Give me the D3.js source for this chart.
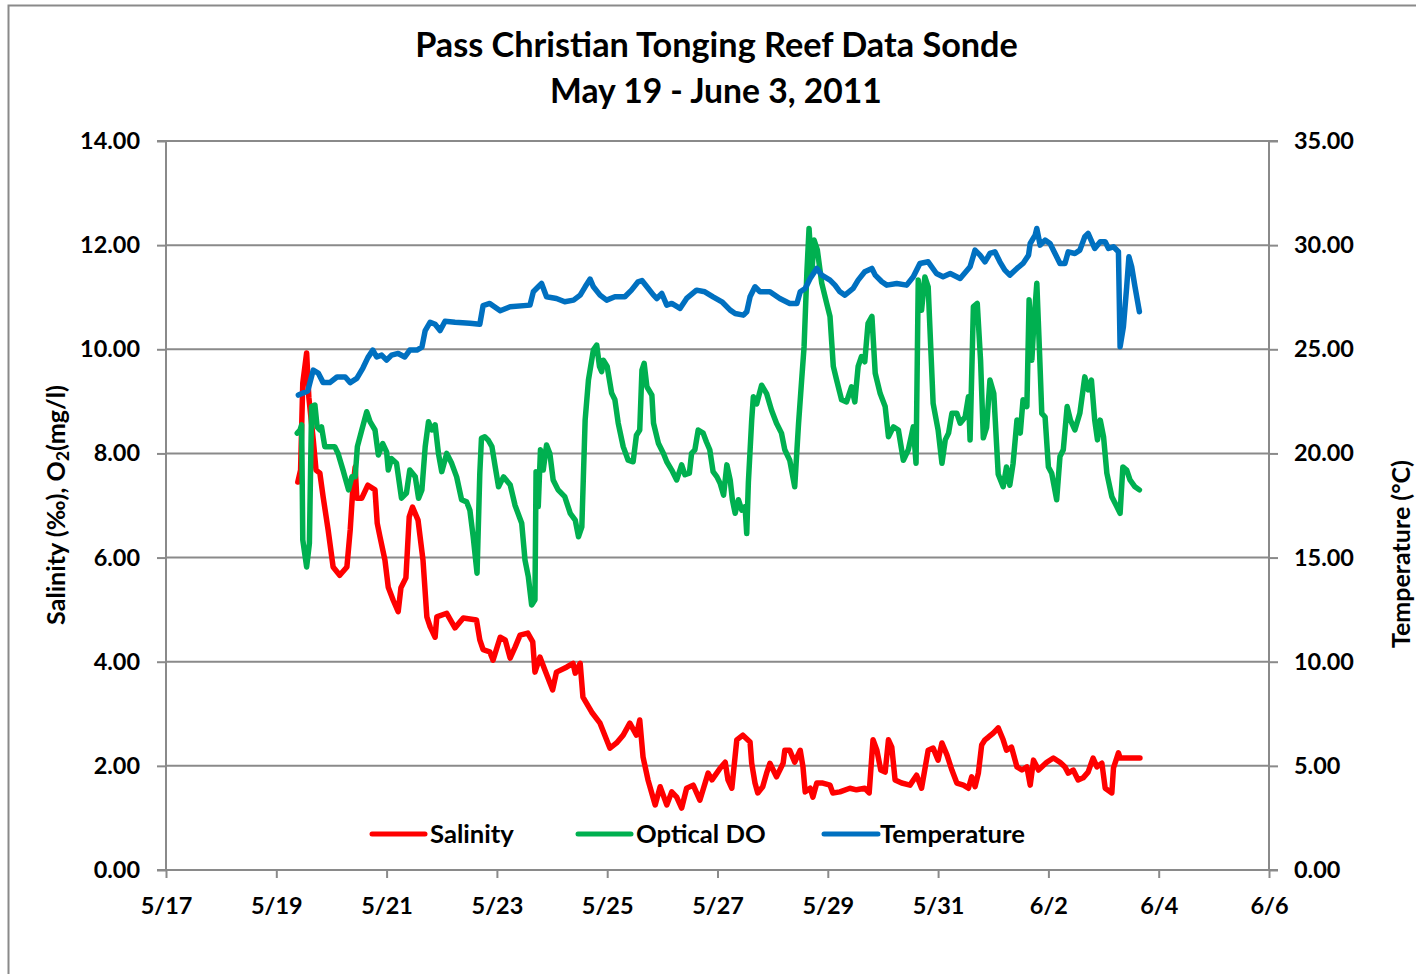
<!DOCTYPE html>
<html><head><meta charset="utf-8">
<script src="https://cdn.jsdelivr.net/npm/d3@7"></script>
<style>body{margin:0;background:#fff;} svg{display:block;} text{font-family:Lato,"Open Sans",sans-serif;font-weight:bold;fill:#000;}</style>
</head><body>
<svg id="chart" width="1416" height="974"></svg>
<script>
// Day of month, May 2011 (32 = June 1), and value
const salinity = [[19.39,7.45],[19.44,7.68],[19.48,9.35],[19.55,9.93],[19.59,9.08],[19.67,8.26],[19.72,7.68],[19.79,7.62],[19.85,7.16],[19.94,6.53],[20.03,5.82],[20.15,5.66],[20.28,5.82],[20.34,6.53],[20.39,7.36],[20.43,7.74],[20.46,7.14],[20.55,7.14],[20.66,7.39],[20.79,7.30],[20.83,6.66],[20.88,6.40],[20.97,5.95],[21.03,5.43],[21.12,5.18],[21.21,4.96],[21.26,5.42],[21.35,5.61],[21.41,6.78],[21.47,6.97],[21.57,6.72],[21.66,5.95],[21.73,4.86],[21.79,4.67],[21.88,4.47],[21.91,4.86],[22.09,4.93],[22.24,4.65],[22.39,4.84],[22.63,4.80],[22.69,4.42],[22.75,4.23],[22.87,4.19],[22.93,4.03],[23.06,4.47],[23.15,4.42],[23.24,4.07],[23.33,4.28],[23.42,4.51],[23.56,4.55],[23.65,4.38],[23.69,3.80],[23.78,4.09],[23.87,3.84],[24.01,3.46],[24.08,3.80],[24.27,3.90],[24.38,3.97],[24.42,3.78],[24.51,3.97],[24.56,3.32],[24.72,3.03],[24.87,2.82],[25.05,2.34],[25.17,2.44],[25.29,2.59],[25.41,2.82],[25.53,2.59],[25.59,2.88],[25.65,2.17],[25.74,1.73],[25.87,1.25],[25.96,1.60],[26.08,1.25],[26.17,1.50],[26.26,1.40],[26.35,1.19],[26.44,1.57],[26.56,1.63],[26.68,1.34],[26.83,1.86],[26.90,1.73],[27.05,1.96],[27.14,2.07],[27.19,1.73],[27.26,1.57],[27.35,2.50],[27.46,2.59],[27.59,2.46],[27.62,2.05],[27.68,1.67],[27.73,1.48],[27.82,1.60],[27.89,1.86],[27.95,2.05],[28.07,1.79],[28.19,2.05],[28.22,2.30],[28.31,2.30],[28.40,2.07],[28.50,2.30],[28.55,1.98],[28.59,1.50],[28.68,1.57],[28.73,1.40],[28.80,1.67],[28.91,1.67],[29.04,1.63],[29.09,1.48],[29.22,1.50],[29.40,1.57],[29.52,1.54],[29.67,1.57],[29.75,1.48],[29.82,2.50],[29.89,2.30],[29.96,1.92],[30.04,1.88],[30.10,2.50],[30.16,2.36],[30.22,1.73],[30.34,1.67],[30.49,1.63],[30.61,1.82],[30.70,1.57],[30.82,2.30],[30.91,2.34],[31.00,2.11],[31.07,2.44],[31.16,2.21],[31.25,1.92],[31.34,1.67],[31.46,1.63],[31.55,1.57],[31.61,1.79],[31.67,1.60],[31.73,1.86],[31.79,2.40],[31.85,2.50],[31.91,2.55],[32.00,2.63],[32.09,2.73],[32.18,2.50],[32.24,2.30],[32.33,2.36],[32.43,1.98],[32.52,1.92],[32.61,1.98],[32.67,1.63],[32.73,2.11],[32.82,1.92],[32.97,2.07],[33.09,2.15],[33.21,2.07],[33.30,1.98],[33.36,1.86],[33.45,1.92],[33.54,1.73],[33.63,1.77],[33.72,1.88],[33.81,2.15],[33.88,1.98],[33.97,2.05],[34.03,1.57],[34.15,1.48],[34.18,1.96],[34.27,2.25],[34.30,2.15],[34.66,2.15]];

const opticalDO = [[19.38,8.39],[19.43,8.45],[19.46,8.55],[19.48,6.34],[19.55,5.82],[19.60,6.27],[19.64,8.90],[19.70,8.93],[19.74,8.51],[19.79,8.45],[19.82,8.51],[19.88,8.13],[20.06,8.13],[20.12,8.0],[20.21,7.68],[20.31,7.30],[20.37,7.55],[20.43,7.55],[20.47,8.13],[20.55,8.45],[20.64,8.80],[20.70,8.61],[20.79,8.45],[20.85,7.97],[20.93,8.19],[21.00,8.03],[21.03,7.68],[21.09,7.90],[21.18,7.81],[21.27,7.14],[21.36,7.24],[21.42,7.68],[21.52,7.55],[21.58,7.14],[21.64,7.30],[21.70,8.13],[21.76,8.61],[21.82,8.45],[21.88,8.55],[21.94,8.0],[22.00,7.65],[22.09,8.0],[22.18,7.81],[22.27,7.55],[22.36,7.11],[22.45,7.07],[22.51,6.91],[22.57,6.40],[22.64,5.70],[22.69,7.62],[22.72,8.29],[22.78,8.32],[22.84,8.26],[22.91,8.13],[22.97,7.74],[23.03,7.36],[23.12,7.55],[23.24,7.40],[23.33,7.0],[23.45,6.66],[23.51,5.95],[23.57,5.63],[23.63,5.09],[23.69,5.19],[23.71,7.65],[23.75,6.98],[23.79,8.07],[23.84,7.68],[23.90,8.16],[23.96,8.0],[24.02,7.49],[24.11,7.30],[24.23,7.17],[24.33,6.85],[24.42,6.72],[24.48,6.40],[24.54,6.59],[24.60,8.64],[24.66,9.41],[24.75,9.99],[24.81,10.08],[24.86,9.67],[24.90,9.57],[24.93,9.79],[25.00,9.67],[25.08,9.16],[25.14,9.03],[25.20,8.58],[25.29,8.13],[25.38,7.87],[25.47,7.84],[25.53,8.35],[25.59,8.45],[25.63,9.60],[25.67,9.73],[25.72,9.28],[25.81,9.12],[25.84,8.58],[25.93,8.19],[26.02,8.0],[26.08,7.84],[26.17,7.68],[26.26,7.49],[26.35,7.78],[26.41,7.59],[26.49,7.62],[26.53,8.0],[26.59,8.07],[26.65,8.45],[26.74,8.39],[26.80,8.22],[26.86,8.07],[26.92,7.65],[26.99,7.55],[27.05,7.42],[27.11,7.20],[27.17,7.78],[27.23,7.49],[27.27,7.11],[27.32,6.85],[27.38,7.11],[27.44,6.91],[27.50,6.98],[27.53,6.46],[27.56,7.45],[27.62,8.64],[27.65,9.09],[27.71,8.95],[27.76,9.15],[27.80,9.31],[27.89,9.15],[27.98,8.83],[28.07,8.58],[28.16,8.39],[28.22,8.07],[28.31,7.87],[28.40,7.36],[28.47,8.58],[28.53,9.47],[28.57,10.05],[28.62,11.46],[28.66,12.32],[28.71,11.46],[28.75,12.10],[28.81,11.91],[28.89,11.27],[28.98,10.88],[29.04,10.63],[29.10,9.67],[29.16,9.41],[29.25,9.03],[29.34,8.99],[29.43,9.28],[29.49,8.99],[29.55,9.67],[29.61,9.86],[29.67,9.76],[29.73,10.50],[29.80,10.63],[29.86,9.54],[29.95,9.15],[30.04,8.90],[30.10,8.32],[30.19,8.51],[30.28,8.45],[30.37,7.87],[30.46,8.07],[30.55,8.51],[30.60,7.81],[30.64,11.33],[30.70,10.75],[30.76,11.39],[30.82,11.20],[30.91,8.96],[31.00,8.45],[31.07,7.81],[31.13,8.26],[31.19,8.39],[31.25,8.77],[31.34,8.77],[31.40,8.58],[31.49,8.70],[31.55,9.09],[31.58,8.26],[31.64,10.82],[31.71,10.88],[31.77,9.79],[31.82,8.30],[31.88,8.50],[31.94,9.41],[32.01,9.15],[32.09,7.60],[32.18,7.36],[32.24,7.74],[32.30,7.39],[32.36,7.81],[32.43,8.64],[32.49,8.39],[32.54,9.03],[32.61,8.90],[32.65,10.95],[32.70,9.79],[32.74,10.56],[32.79,11.27],[32.84,9.92],[32.88,8.77],[32.94,8.70],[33.00,7.74],[33.06,7.62],[33.15,7.11],[33.21,7.94],[33.27,8.07],[33.34,8.90],[33.40,8.64],[33.48,8.45],[33.57,8.77],[33.66,9.47],[33.72,9.22],[33.78,9.41],[33.84,8.64],[33.89,8.26],[33.94,8.64],[34.00,8.32],[34.06,7.62],[34.15,7.17],[34.24,6.98],[34.30,6.85],[34.35,7.74],[34.42,7.68],[34.48,7.49],[34.57,7.36],[34.65,7.30]];

const temperature = [[19.40,22.8],[19.57,23.0],[19.67,24.0],[19.76,23.86],[19.85,23.4],[19.97,23.4],[20.10,23.67],[20.25,23.67],[20.34,23.4],[20.46,23.6],[20.57,24.1],[20.66,24.6],[20.75,24.96],[20.82,24.63],[20.91,24.72],[21.00,24.48],[21.09,24.72],[21.21,24.8],[21.33,24.63],[21.42,24.96],[21.55,24.96],[21.64,25.1],[21.70,25.9],[21.79,26.3],[21.88,26.2],[21.97,25.9],[22.06,26.35],[22.24,26.3],[22.51,26.25],[22.69,26.2],[22.75,27.1],[22.87,27.2],[23.06,26.85],[23.24,27.04],[23.60,27.12],[23.66,27.76],[23.75,28.0],[23.81,28.16],[23.90,27.52],[24.08,27.44],[24.23,27.28],[24.39,27.36],[24.51,27.6],[24.60,28.0],[24.69,28.37],[24.75,28.0],[24.87,27.6],[24.99,27.36],[25.14,27.52],[25.32,27.52],[25.44,27.84],[25.56,28.24],[25.63,28.3],[25.72,28.0],[25.84,27.6],[25.90,27.44],[25.99,27.68],[26.08,27.12],[26.17,27.2],[26.32,26.96],[26.44,27.44],[26.62,27.84],[26.77,27.76],[26.92,27.52],[27.08,27.28],[27.23,26.88],[27.32,26.72],[27.47,26.64],[27.53,26.8],[27.59,27.52],[27.68,28.0],[27.77,27.76],[27.95,27.76],[28.13,27.44],[28.31,27.2],[28.44,27.2],[28.50,27.76],[28.59,27.92],[28.68,28.4],[28.80,28.88],[28.89,28.56],[29.04,28.32],[29.13,28.08],[29.22,27.76],[29.31,27.6],[29.46,27.92],[29.55,28.32],[29.67,28.72],[29.80,28.88],[29.86,28.56],[29.98,28.24],[30.07,28.08],[30.25,28.16],[30.43,28.08],[30.55,28.48],[30.67,29.12],[30.82,29.2],[30.97,28.64],[31.09,28.48],[31.22,28.64],[31.40,28.4],[31.58,28.96],[31.67,29.76],[31.76,29.52],[31.85,29.2],[31.94,29.6],[32.03,29.68],[32.12,29.2],[32.21,28.8],[32.30,28.56],[32.43,28.88],[32.54,29.12],[32.64,29.52],[32.67,30.08],[32.76,30.48],[32.79,30.8],[32.85,30.0],[32.94,30.24],[33.03,30.08],[33.12,29.6],[33.21,29.12],[33.30,29.12],[33.36,29.68],[33.48,29.6],[33.57,29.76],[33.66,30.4],[33.72,30.56],[33.84,29.84],[33.94,30.16],[34.03,30.16],[34.09,29.84],[34.18,29.92],[34.27,29.68],[34.30,25.12],[34.36,26.08],[34.42,28.0],[34.46,29.44],[34.51,28.96],[34.57,28.0],[34.65,26.8]];

const leftTicks = [0,2,4,6,8,10,12,14];
const rightTicks = [0,5,10,15,20,25,30,35];
const xTickLabels = ["5/17","5/19","5/21","5/23","5/25","5/27","5/29","5/31","6/2","6/4","6/6"];
const seriesNames = ["Salinity","Optical DO","Temperature"];
const seriesColors = ["#FF0000","#00B050","#0070C0"];
const titleLines = ["Pass Christian Tonging Reef Data Sonde","May 19 - June 3, 2011"];

const svg = d3.select("#chart");
const L = 166, R = 1269, T = 141, B = 870;
const toDate = d => new Date(new Date(2011,4,1).getTime() + (d-1)*864e5);
const parseTick = s => d3.timeParse("%m/%d/%Y")(s + "/2011");

const x = d3.scaleTime().domain([parseTick("5/17"), parseTick("6/6")]).range([L, R]);
const yL = d3.scaleLinear().domain([0,14]).range([B, T]);
const yR = d3.scaleLinear().domain([0,35]).range([B, T]);
const grey = "#8a8a8a";

function fit(sel, target){ const w = sel.node().getComputedTextLength(); const fs = parseFloat(sel.attr("font-size")); sel.attr("font-size", fs*target/w); return fs*target/w; }

// outer border
svg.append("rect").attr("x",8.5).attr("y",5.5).attr("width",1430).attr("height",1000)
  .attr("fill","none").attr("stroke",grey).attr("stroke-width",2);

// gridlines
svg.append("g").selectAll("line").data(leftTicks.filter(v=>v>0)).join("line")
  .attr("x1",L).attr("x2",R).attr("y1",d=>yL(d)).attr("y2",d=>yL(d))
  .attr("stroke",grey).attr("stroke-width",2);

// axes
const axL = svg.append("g").attr("transform",`translate(${L},0)`)
  .call(d3.axisLeft(yL).tickValues(leftTicks).tickFormat(d3.format(".2f")).tickSize(9).tickPadding(17));
const axR = svg.append("g").attr("transform",`translate(${R},0)`)
  .call(d3.axisRight(yR).tickValues(rightTicks).tickFormat(d3.format(".2f")).tickSize(9).tickPadding(16));
const axB = svg.append("g").attr("transform",`translate(0,${B})`)
  .call(d3.axisBottom(x).tickValues(xTickLabels.map(parseTick)).tickFormat(d3.timeFormat("%-m/%-d")).tickSize(8).tickPadding(19));
[axL,axR,axB].forEach(a=>{
  a.select(".domain").attr("stroke",grey).attr("stroke-width",2);
  a.selectAll(".tick line").attr("stroke",grey).attr("stroke-width",2);
  a.selectAll("text").attr("font-family","Lato").attr("font-weight","bold").attr("fill","#000");
});
// tick label size
const probe = svg.append("text").attr("font-size",20).text("14.00");
const tfs = fit(probe, 60); probe.remove();
svg.selectAll(".tick text").attr("font-size", tfs);
axL.select(".domain").attr("d",`M-9,${B}H0V${T}H-9`);
axR.select(".domain").attr("d",`M9,${B}H0V${T}H9`);
axB.select(".domain").attr("d",`M${L-9},0H${R+9}`);

// lines
const dataSets = [
  {data: salinity, y: yL},
  {data: opticalDO, y: yL},
  {data: temperature, y: yR}
];
dataSets.forEach((s,i)=>{
  const line = d3.line().x(d=>x(toDate(d[0]))).y(d=>s.y(d[1]));
  svg.append("path").datum(s.data).attr("d",line).attr("fill","none")
    .attr("stroke",seriesColors[i]).attr("stroke-width",5.5)
    .attr("stroke-linejoin","round").attr("stroke-linecap","round");
});

// title
const t1 = svg.append("text").attr("x",716.5).attr("y",57).attr("text-anchor","middle").attr("font-size",30).text(titleLines[0]);
fit(t1, 603);
const t2 = svg.append("text").attr("x",716).attr("y",103).attr("text-anchor","middle").attr("font-size",30).text(titleLines[1]);
fit(t2, 332);

// axis titles
const lt = svg.append("text").attr("transform","translate(65,505) rotate(-90)").attr("text-anchor","middle").attr("font-size",20);
lt.append("tspan").text("Salinity (‰), O");
lt.append("tspan").attr("font-size","70%").attr("dy",4).text("2");
lt.append("tspan").attr("dy",-4).text("(mg/l)");
fit(lt, 240);
const rt = svg.append("text").attr("transform","translate(1410,554) rotate(-90)").attr("text-anchor","middle").attr("font-size",20).text("Temperature (°C)");
fit(rt, 188);

// legend
const legendItems = [
  {x1:372, x2:425, tx:430},
  {x1:578, x2:631, tx:636},
  {x1:824, x2:878, tx:880}
];
const ly = 834;
const lfsProbe = svg.append("text").attr("font-size",20).text(seriesNames[2]);
const lfs = fit(lfsProbe, 145); lfsProbe.remove();
legendItems.forEach((it,i)=>{
  svg.append("line").attr("x1",it.x1).attr("x2",it.x2).attr("y1",ly).attr("y2",ly)
    .attr("stroke",seriesColors[i]).attr("stroke-width",5).attr("stroke-linecap","round");
  svg.append("text").attr("x",it.tx).attr("y",ly).attr("dy","0.35em").attr("font-size",lfs).text(seriesNames[i]);
});
</script>
</body></html>
